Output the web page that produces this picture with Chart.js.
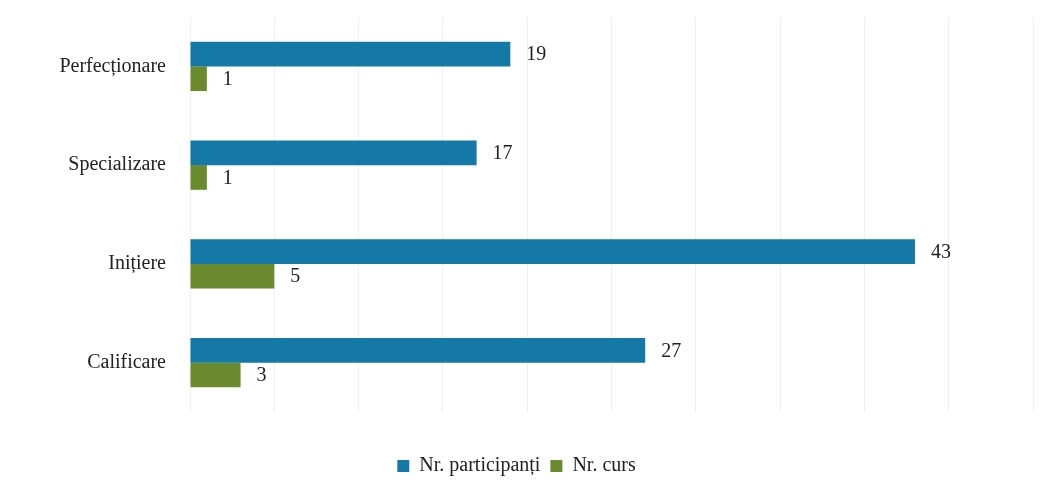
<!DOCTYPE html>
<html>
<head>
<meta charset="utf-8">
<script src="https://cdn.jsdelivr.net/npm/chart.js@4"></script>
<style>
html,body{margin:0;padding:0;background:#fff;}
#wrap{width:1048px;height:500px;position:relative;}
</style>
</head>
<body>
<div id="wrap"><canvas id="c" width="1048" height="500"></canvas></div>
<script>
const categories = ["Perfecționare", "Specializare", "Inițiere", "Calificare"];
const participanti = [19, 17, 43, 27];
const cursuri = [1, 1, 5, 3];
const seriesNames = ["Nr. participanți", "Nr. curs"];
const FONT = "'Liberation Serif', 'DejaVu Serif', serif";
const FSIZE = 20;

const valueLabels = {
  id: 'valueLabels',
  afterDatasetsDraw(chart) {
    const ctx = chart.ctx;
    ctx.save();
    ctx.font = FSIZE + "px " + FONT;
    ctx.fillStyle = '#222';
    ctx.textBaseline = 'middle';
    ctx.textAlign = 'left';
    chart.data.datasets.forEach((ds, i) => {
      const meta = chart.getDatasetMeta(i);
      meta.data.forEach((bar, j) => {
        ctx.fillText(String(ds.data[j]), bar.x + 16, bar.y + 1);
      });
    });
    ctx.restore();
  }
};

new Chart(document.getElementById('c'), {
  type: 'bar',
  data: {
    labels: categories,
    datasets: [
      { label: seriesNames[0], data: participanti, backgroundColor: '#1479a6', categoryPercentage: 0.5, barPercentage: 1.0 },
      { label: seriesNames[1], data: cursuri, backgroundColor: '#6a8a2e', categoryPercentage: 0.5, barPercentage: 1.0 }
    ]
  },
  options: {
    indexAxis: 'y',
    responsive: false,
    animation: false,
    layout: { padding: { top: 17, right: 15, bottom: 14, left: 0 } },
    scales: {
      x: {
        min: 0, max: 50,
        ticks: { stepSize: 5, display: false },
        grid: { color: '#f0f0f0', drawTicks: false },
        border: { display: false },
        afterFit(s) { s.height = 34; s.paddingLeft = 0; s.paddingRight = 0; }
      },
      y: {
        ticks: { color: '#222', font: { family: FONT, size: FSIZE }, padding: 24 },
        grid: { display: false, drawTicks: false },
        border: { display: false },
        afterFit(s) { s.width = 190; s.paddingTop = 0; s.paddingBottom = 0; }
      }
    },
    plugins: {
      legend: {
        position: 'bottom',
        labels: { color: '#222', font: { family: FONT, size: FSIZE }, boxWidth: 12, boxHeight: 12, padding: 10 }
      },
      tooltip: { enabled: false }
    }
  },
  plugins: [valueLabels]
});
</script>
</body>
</html>
